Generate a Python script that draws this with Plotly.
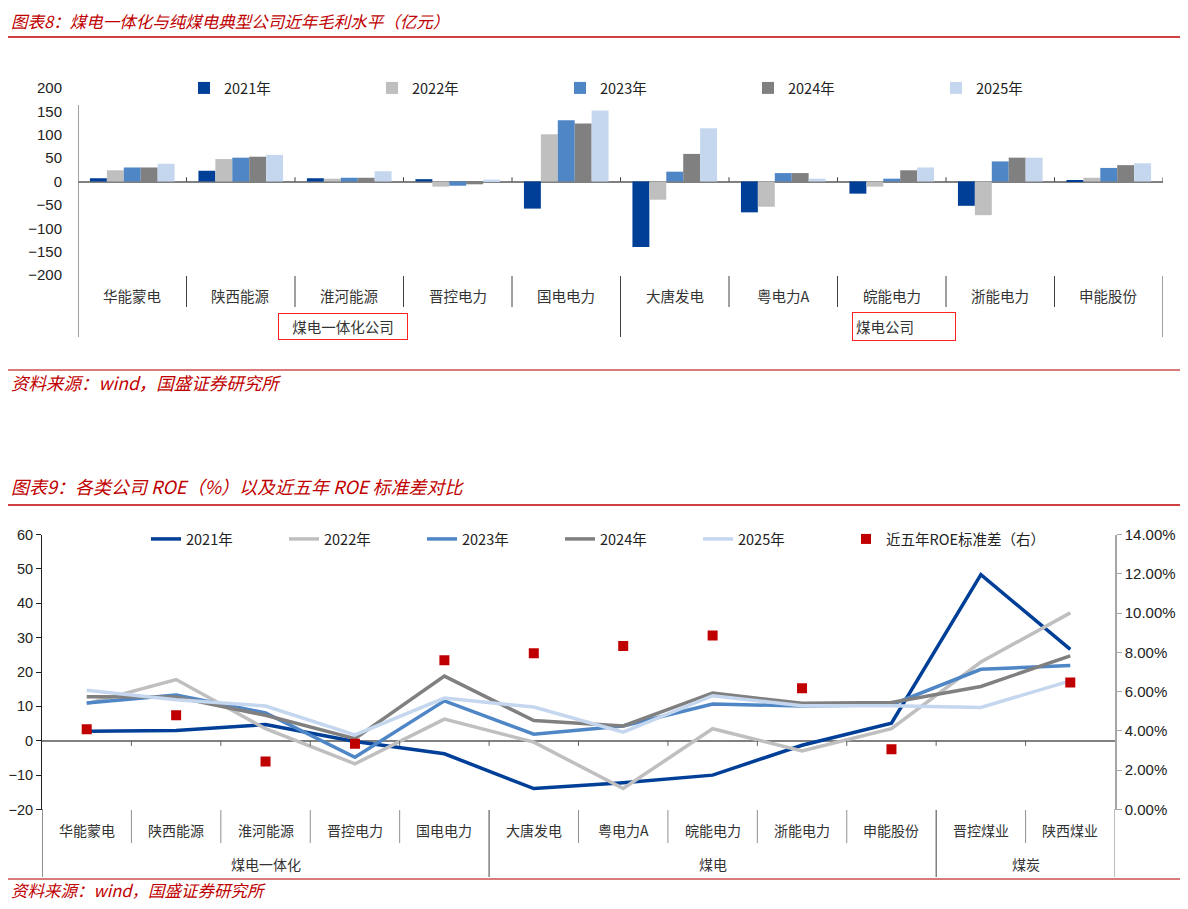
import plotly.graph_objects as go

# page has an 8px body margin, so the figure is sized to fit a 1188x909 window
PAGE_W, PAGE_H, BODY = 1188, 909, 8
W, H = PAGE_W - 2 * BODY, PAGE_H - 2 * BODY

# ---- chart 1: gross profit (亿元) ----
companies1 = ["华能蒙电", "陕西能源", "淮河能源", "晋控电力", "国电电力",
              "大唐发电", "粤电力A", "皖能电力", "浙能电力", "申能股份"]
groups1 = ["煤电一体化公司", "煤电公司"]
years = ["2021年", "2022年", "2023年", "2024年", "2025年"]
gp_2021 = [7, 23, 7, 5, -58, -140, -66, -26, -52, 3]
gp_2022 = [24, 48, 6, -11, 101, -39, -54, -11, -72, 8]
gp_2023 = [30, 51, 8, -9, 131, 21, 18, 6, 43, 29]
gp_2024 = [30, 53, 8, -6, 124, 59, 18, 24, 51, 35]
gp_2025 = [38, 57, 22, 4, 152, 114, 6, 30, 51, 39]
y1_ticks = [-200, -150, -100, -50, 0, 50, 100, 150, 200]

# ---- chart 2: ROE (%) and 5y ROE std ----
companies2 = ["华能蒙电", "陕西能源", "淮河能源", "晋控电力", "国电电力", "大唐发电",
              "粤电力A", "皖能电力", "浙能电力", "申能股份", "晋控煤业", "陕西煤业"]
groups2 = ["煤电一体化", "煤电", "煤炭"]
group2_sizes = [5, 5, 2]
roe_2021 = [2.8, 3.0, 4.7, -0.2, -3.8, -13.9, -12.2, -10.0, -1.3, 5.1, 48.3, 26.6]
roe_2022 = [10.8, 17.8, 3.5, -6.7, 6.3, -0.4, -13.9, 3.5, -3.0, 3.5, 22.9, 37.2]
roe_2023 = [11.0, 13.3, 8.1, -4.8, 11.6, 1.9, 4.3, 10.7, 10.1, 10.5, 20.8, 21.9]
roe_2024 = [12.8, 12.7, 7.4, 0.6, 18.8, 5.9, 4.3, 13.9, 10.9, 11.1, 15.8, 24.7]
roe_2025 = [14.7, 11.9, 10.1, 1.7, 12.4, 9.8, 2.5, 13.1, 10.2, 10.2, 9.7, 17.4]
roe_std = [0.0408, 0.0480, 0.0244, 0.0335, 0.0760, 0.0795, 0.0833, 0.0886,
           0.0617, 0.0307, None, 0.0647]
std_name = "近五年ROE标准差（右）"

COLORS = ["#003F98", "#BFBFBF", "#4F86C6", "#808080", "#C5D7EE"]
RED = "#C00000"
CJK = "Noto Sans CJK SC"
NUM = "Liberation Sans"


def py(p):
    # page pixel row -> paper y
    return 1 - (p - BODY) / H


def px_(p):
    # page pixel column -> paper x
    return (p - BODY) / W


fig = go.Figure()

for name, vals, col in zip(years, [gp_2021, gp_2022, gp_2023, gp_2024, gp_2025], COLORS):
    fig.add_trace(go.Bar(x=companies1, y=vals, name=name, marker_color=col,
                         marker_line_width=0, xaxis="x", yaxis="y", legend="legend"))

for name, vals, col in zip(years, [roe_2021, roe_2022, roe_2023, roe_2024, roe_2025], COLORS):
    fig.add_trace(go.Scatter(x=companies2, y=vals, name=name, mode="lines",
                             line=dict(color=col, width=3.5), xaxis="x2", yaxis="y2",
                             legend="legend2"))

fig.add_trace(go.Scatter(x=companies2, y=roe_std, name=std_name, mode="markers",
                         marker=dict(symbol="square", size=10, color=RED),
                         xaxis="x2", yaxis="y3", legend="legend3"))

shapes = []
annotations = []


def vline(xref, x, y0, y1, color, width=1):
    shapes.append(dict(type="line", xref=xref, yref="paper", x0=x, x1=x,
                       y0=py(y0), y1=py(y1), line=dict(color=color, width=width)))


def label(xref, x, y, text, size=14, **kw):
    annotations.append(dict(xref=xref, yref="paper", x=x, y=py(y), text=text,
                            showarrow=False, xanchor=kw.pop("xanchor", "center"),
                            yanchor="middle",
                            font=dict(size=size, color=kw.pop("color", "#333"),
                                      family=CJK, style=kw.pop("style", "normal")),
                            **kw))


# chart 1 category area
for i, c in enumerate(companies1):
    label("x", i, 296, c, size=14.5)
for i in range(len(companies1) - 1):
    vline("x", i + 0.5, 276, 337 if i == 4 else 307, "#404040")
vline("x", len(companies1) - 0.5, 276, 337, "#404040")
vline("x", -0.5, 105, 337, "#808080", 1.5)
for i in range(len(companies1)):
    shapes.append(dict(type="line", xref="x", yref="y", x0=i + 0.5, x1=i + 0.5,
                       y0=0, y1=9, line=dict(color="#404040", width=1)))

label("paper", px_(343), 326, groups1[0], size=14.5, width=124, align="center",
      bordercolor="#FF2020", borderwidth=1, borderpad=2)
label("paper", px_(904), 326, groups1[1], size=14.5, width=96, align="left",
      bordercolor="#FF2020", borderwidth=1, borderpad=3)

# chart 2 category area
for i, c in enumerate(companies2):
    label("x2", i, 830, c)
bounds = []
start = 0
for g, n in zip(groups2, group2_sizes):
    label("x2", start + (n - 1) / 2, 864, g)
    start += n
    bounds.append(start - 0.5)
for i in range(len(companies2) - 1):
    xb = i + 0.5
    if xb in bounds:
        vline("x2", xb, 810, 877, "#404040")
    else:
        vline("x2", xb, 810, 843, "#909090")
    shapes.append(dict(type="line", xref="x2", yref="y2", x0=xb, x1=xb,
                       y0=0, y1=-1.5, line=dict(color="#606060", width=1)))
vline("x2", -0.5, 809, 877, "#202020")
vline("x2", len(companies2) - 0.5, 809, 877, "#A6A6A6", 1.5)

# titles and source lines
label("paper", px_(9), 21, "图表8：煤电一体化与纯煤电典型公司近年毛利水平（亿元）",
      size=16.5, xanchor="left", color=RED, style="italic")
label("paper", px_(9), 486, "图表9：各类公司 ROE（%）以及近五年 ROE 标准差对比",
      size=18, xanchor="left", color=RED, style="italic")
label("paper", px_(9), 382, "资料来源：wind，国盛证券研究所", size=17.5,
      xanchor="left", color=RED, style="italic")
label("paper", px_(9), 890, "资料来源：wind，国盛证券研究所", size=16.5,
      xanchor="left", color=RED, style="italic")
for ly in [37, 505]:
    shapes.append(dict(type="line", xref="paper", yref="paper", x0=-0.01, x1=1.01,
                       y0=py(ly), y1=py(ly), line=dict(color=RED, width=1.5)))
for ly in [370, 879]:
    shapes.append(dict(type="line", xref="paper", yref="paper", x0=-0.01, x1=1.01,
                       y0=py(ly), y1=py(ly), line=dict(color="#D97B7B", width=2)))

legend_font = dict(size=14.5, color="#222", family=CJK)

fig.update_layout(
    width=W, height=H, margin=dict(l=0, r=0, t=0, b=0),
    paper_bgcolor="white", plot_bgcolor="rgba(0,0,0,0)",
    barmode="group", bargap=0.22, bargroupgap=0,
    font=dict(family=CJK, color="#222"),
    xaxis=dict(domain=[px_(78), px_(1163)], range=[-0.5, 9.5], type="category",
               showticklabels=False, showgrid=False, showline=False, ticks="",
               anchor="y", automargin=False),
    yaxis=dict(domain=[py(275), py(88)], range=[-200, 200], tickvals=y1_ticks,
               showgrid=False, showline=False, ticks="", zeroline=True,
               zerolinecolor="#808080", zerolinewidth=1.5,
               tickfont=dict(size=15, color="#222", family=NUM),
               ticklabelstandoff=15, anchor="x", automargin=False),
    xaxis2=dict(domain=[px_(42), px_(1115)], range=[-0.5, 11.5], type="category",
                showticklabels=False, showgrid=False, showline=False, ticks="",
                anchor="y2", automargin=False),
    yaxis2=dict(domain=[py(809.5), py(534.5)], range=[-20, 60], dtick=10,
                showgrid=False, showline=True, linecolor="#202020", linewidth=1,
                ticks="outside", ticklen=5, tickcolor="#202020",
                zeroline=True, zerolinecolor="#808080", zerolinewidth=1.5,
                tickfont=dict(size=14.5, color="#222", family=NUM),
                ticklabelstandoff=0, anchor="x2", automargin=False),
    yaxis3=dict(domain=[py(809.5), py(534.5)], range=[0, 0.14], dtick=0.02,
                tickformat=".2%", overlaying="y2", side="right", anchor="x2",
                showgrid=False, zeroline=False, showline=True, linecolor="#A6A6A6",
                linewidth=1.5, ticks="outside", ticklen=5, tickcolor="#A6A6A6",
                tickfont=dict(size=15, color="#222", family=NUM), automargin=False),
    legend=dict(orientation="h", x=px_(184), y=py(88), yanchor="middle",
                xanchor="left", entrywidth=143, traceorder="normal",
                bgcolor="rgba(0,0,0,0)", font=legend_font),
    legend2=dict(orientation="h", x=px_(146), y=py(539), yanchor="middle",
                 xanchor="left", entrywidth=93, traceorder="normal",
                 bgcolor="rgba(0,0,0,0)", font=legend_font),
    legend3=dict(orientation="h", x=px_(846), y=py(539), yanchor="middle",
                 xanchor="left", bgcolor="rgba(0,0,0,0)", font=legend_font),
    shapes=shapes, annotations=annotations,
)

fig.write_html("out.html")
